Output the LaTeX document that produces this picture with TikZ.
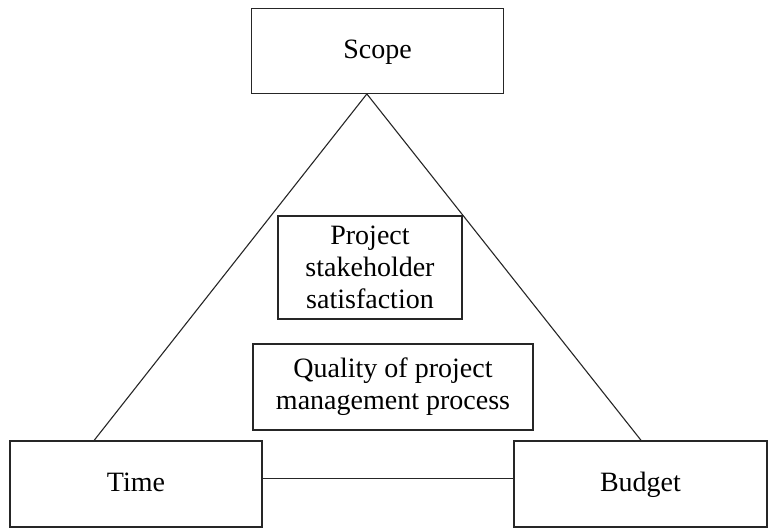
\documentclass[tikz,border=0pt]{standalone}
\usepackage{fontspec}
\setmainfont{Liberation Serif}
\usetikzlibrary{calc}
\begin{document}
\begin{tikzpicture}[x=1pt,y=-1pt,
  box/.style={draw=black!85, line width=1.4pt, rectangle, inner sep=0pt, align=center,
    font=\fontsize{28}{32}\selectfont},
  oneline/.style={text height=20pt, text depth=5pt},
  link/.style={draw=black!85, line width=1.1pt}]
\useasboundingbox (0,0) rectangle (768,529);
\node[box, oneline, minimum width=252pt, minimum height=85pt] (scope) at (377.5,50.75) {Scope};
\node[box, oneline, minimum width=252pt, minimum height=86pt] (time) at (136,484) {Time};
\node[box, oneline, minimum width=253pt, minimum height=86pt] (budget) at (640.5,484) {Budget};
\node[box, minimum width=184pt, minimum height=103pt] (stake) at (370,267.5) {Project\\stakeholder\\satisfaction};
\node[box, minimum width=280pt, minimum height=86pt] (quality) at (393,387) {Quality of project\\management process};
\coordinate (apex) at ($(scope.south west)!0.458!(scope.south east)$);
\draw[link] (apex) -- ($(time.north west)!0.335!(time.north east)$);
\draw[link] (apex) -- ($(budget.north west)!0.502!(budget.north east)$);
\draw[link] ([yshift=5.5pt]time.east) -- ([yshift=5.5pt]budget.west);
\end{tikzpicture}
\end{document}
